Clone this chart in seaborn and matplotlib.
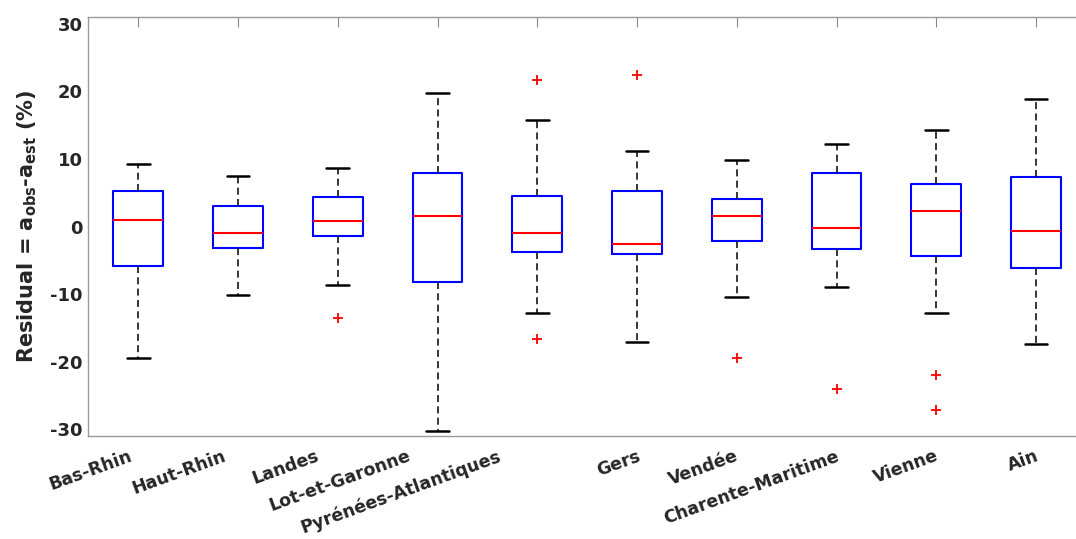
import matplotlib
matplotlib.use("Agg")
import matplotlib.pyplot as plt
import matplotlib.transforms as mtransforms
import pandas as pd
import seaborn as sns

departments = ["Bas-Rhin", "Haut-Rhin", "Landes", "Lot-et-Garonne", "Pyrénées-Atlantiques",
               "Gers", "Vendée", "Charente-Maritime", "Vienne", "Ain"]
whisker_low = [-19.4, -10.1, -8.7, -30.3, -12.8, -17.1, -10.4, -8.9, -12.8, -17.4]
q1 = [-5.8, -3.2, -1.4, -8.2, -3.8, -4.1, -2.1, -3.3, -4.3, -6.1]
medians = [0.9, -1.0, 0.8, 1.6, -1.0, -2.6, 1.6, -0.2, 2.3, -0.7]
q3 = [5.2, 3.1, 4.4, 7.9, 4.5, 5.2, 4.1, 7.9, 6.3, 7.3]
whisker_high = [9.2, 7.5, 8.7, 19.7, 15.8, 11.2, 9.8, 12.2, 14.3, 18.9]

outlier_dept = ["Landes", "Pyrénées-Atlantiques", "Pyrénées-Atlantiques", "Gers", "Vendée",
                "Charente-Maritime", "Vienne", "Vienne"]
outlier_value = [-13.6, 21.7, -16.6, 22.4, -19.5, -24.0, -22.0, -27.1]

# horizontal nudges (pixels) of the rotated tick labels, as placed in the original figure
label_shift_px = [-10, -16, -23, -31, -40, 0, -2, -1, -1, -1]

# five summary points per department -> seaborn recovers the quartiles exactly
rows = []
for i, d in enumerate(departments):
    for v in (whisker_low[i], q1[i], medians[i], q3[i], whisker_high[i]):
        rows.append({"dept": d, "resid": v})
df = pd.DataFrame(rows)
out_df = pd.DataFrame({"dept": outlier_dept, "resid": outlier_value})

sns.set_style("white")
plt.rcParams["font.family"] = ["DejaVu Sans"]
plt.rcParams["font.weight"] = "bold"
plt.rcParams["mathtext.default"] = "bf"
plt.rcParams["axes.unicode_minus"] = False

fig = plt.figure(figsize=(10.76, 5.39), dpi=100)
ax = fig.add_axes([88.4 / 1076, 103 / 539, 997.5 / 1076, 419 / 539])

sns.boxplot(data=df, x="dept", y="resid", order=departments, fill=False, whis=(0, 100),
            width=0.5, capwidths=0.23, showfliers=False, ax=ax,
            boxprops=dict(color="blue", linewidth=1.5),
            medianprops=dict(color="red", linewidth=1.5),
            whiskerprops=dict(color="black", linewidth=1.1, linestyle=(0, (4.6, 2.8))),
            capprops=dict(color="black", linewidth=1.8))
sns.stripplot(data=out_df, x="dept", y="resid", order=departments, jitter=False,
              marker="+", color="red", size=7, linewidth=1.3, ax=ax)

ax.set_xlim(-0.5, 9.5)
ax.set_ylim(-31, 31)
ax.set_yticks([-30, -20, -10, 0, 10, 20, 30])
ax.set_xlabel("")
ax.set_ylabel(r"Residual = a$_{obs}$-a$_{est}$ (%)", fontsize=15, fontweight="bold",
              color="#262626", labelpad=8)

for s in ax.spines.values():
    s.set_visible(True)
    s.set_color("#999999")
    s.set_linewidth(1.0)
ax.tick_params(direction="in", length=7, width=0.8, color="#888888", top=True, right=True,
               labelcolor="#262626")
ax.tick_params(axis="y", pad=4, labelsize=13)
ax.tick_params(axis="x", pad=8, labelsize=12.5)
for lab, dx in zip(ax.get_xticklabels(), label_shift_px):
    lab.set_rotation(20)
    lab.set_ha("right")
    lab.set_va("top")
    lab.set_rotation_mode("anchor")
    lab.set_transform(lab.get_transform() +
                      mtransforms.ScaledTranslation(dx / 100, 0, fig.dpi_scale_trans))

plt.savefig("out.png", dpi=100)
plt.close()
